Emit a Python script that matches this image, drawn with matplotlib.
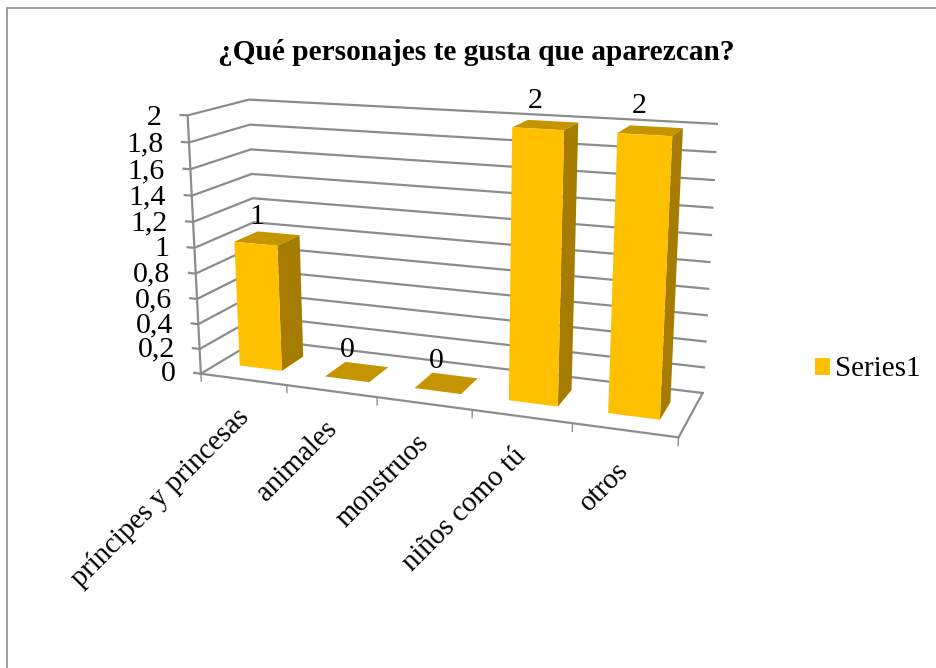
import numpy as np
import matplotlib
matplotlib.use("Agg")
import matplotlib.pyplot as plt
from matplotlib.patches import Patch, Rectangle
from mpl_toolkits.mplot3d import Axes3D  # noqa: F401

# ---- data -------------------------------------------------------------
categories = ["príncipes y princesas", "animales", "monstruos", "niños como tú", "otros"]
values = [1, 0, 0, 2, 2]
series_name = "Series1"
value_ticks = [0, 0.2, 0.4, 0.6, 0.8, 1, 1.2, 1.4, 1.6, 1.8, 2]
value_tick_labels = ["0", "0,2", "0,4", "0,6", "0,8", "1", "1,2", "1,4", "1,6", "1,8", "2"]
title = "¿Qué personajes te gusta que aparezcan?"

# ---- styles ------------------------------------------------------------
W, H = 936, 668
FRONT, SIDE, TOP = "#FFC000", "#A67C00", "#C49500"
GRID = "#8C8C8C"
NONE = (0, 0, 0, 0)
BAR_LEFT, BAR_WIDTH, BAR_FRONT, BAR_DEPTH = 0.25, 0.5, 0.3, 0.4

plt.rcParams["font.family"] = ["Liberation Serif", "DejaVu Serif"]

# ---- camera: world (category, depth, value) -> picture pixels ----------
world = np.array([
    (0, 0, 0), (1, 0, 0), (2, 0, 0), (3, 0, 0), (4, 0, 0), (5, 0, 0),
    (5, 1, 0), (0, 1, 0), (0, 0, 2), (0, 1, 2), (5, 1, 2), (0, 0, 1), (5, 1, 1),
], float)
pixel = np.array([
    (201.7, 373.3), (286.7, 385.0), (377.3, 398.3), (472.3, 410.0), (572.3, 423.3), (678.3, 437.3),
    (702.7, 392.7), (257.7, 339.3), (187.3, 115.3), (249.3, 100.0), (716.7, 124.0), (194.0, 247.3), (710.0, 261.7),
], float)
rows = []
for (X, Y, Z), (u, v_top) in zip(world, pixel):
    v = H - v_top
    rows.append([X, Y, Z, 1, 0, 0, 0, 0, -u * X, -u * Y, -u * Z, -u])
    rows.append([0, 0, 0, 0, X, Y, Z, 1, -v * X, -v * Y, -v * Z, -v])
P = np.linalg.svd(np.array(rows))[2][-1].reshape(3, 4)
if P[2, 3] < 0:
    P = -P
M = np.vstack([P[0], P[1], [0, 1, 0, 0], P[2]])


def label(x, y, z, s, **kw):
    """Text at a projected chart position, drawn flat on the figure."""
    q = M @ np.array([x, y, z, 1.0])
    return fig.text(q[0] / q[3] / W, q[1] / q[3] / H, s, **kw)


fig = plt.figure(figsize=(W / 100, H / 100), dpi=100, facecolor="white")
ax = fig.add_axes([0, 0, 1, 1], projection="3d")
ax.set_proj_type("ortho")
ax.get_proj = lambda: M
ax.apply_aspect = lambda position=None: None
ax.set_axis_off()
ax.patch.set_visible(False)
ax.computed_zorder = False

# chart frame
fig.add_artist(Rectangle((6.5 / W, -0.02), 1.02, 1.02 - 8 / H, transform=fig.transFigure,
                         fill=False, edgecolor="#969696", linewidth=1.3))

n = len(categories)
LW = 1.6
for z, lab in zip(value_ticks, value_tick_labels):
    ax.plot([-0.08, 0, 0, n], [0, 0, 1, 1], [z, z, z, z], color=GRID, lw=LW, zorder=1,
            solid_joinstyle="miter")
    label(-0.3, 0, z - 0.03, lab, ha="right", va="center", fontsize=21.5, color="black")

ax.plot([0, 0], [0, 0], [0, value_ticks[-1]], color=GRID, lw=LW, zorder=1)
ax.plot([0, n, n], [0, 0, 1], [0, 0, 0], color=GRID, lw=LW, zorder=1)
for i in range(n + 1):
    ax.plot([i, i], [0, 0], [0, -0.06], color=GRID, lw=1.0, zorder=1)

for i, (cat, v) in enumerate(zip(categories, values)):
    ax.bar3d(i + BAR_LEFT, BAR_FRONT, 0, BAR_WIDTH, BAR_DEPTH, v,
             color=[NONE, TOP, FRONT, NONE, NONE, SIDE], shade=False, zorder=3 + i * 0.01)
    label(i + 0.39, 0.5, v + 0.165, str(v), ha="center", va="center", fontsize=21.5)
    label(i + 0.51, 0, -0.27, cat, ha="right", va="center", rotation=45,
          rotation_mode="anchor", fontsize=20.6)

fig.text(476 / W, 1 - 52 / H, title, ha="center", va="center", fontsize=21.2, fontweight="bold")
fig.legend(handles=[Patch(facecolor=FRONT, edgecolor="none", label=series_name)],
           loc="center left", bbox_to_anchor=(806 / W, 1 - 369.5 / H), frameon=False, fontsize=21,
           handlelength=0.52, handleheight=0.52, handletextpad=0.17, borderpad=0.3, borderaxespad=0)

ax.viewLim.intervalx = (0, W)
ax.viewLim.intervaly = (0, H)
fig.savefig("out.png", dpi=100, facecolor="white")
